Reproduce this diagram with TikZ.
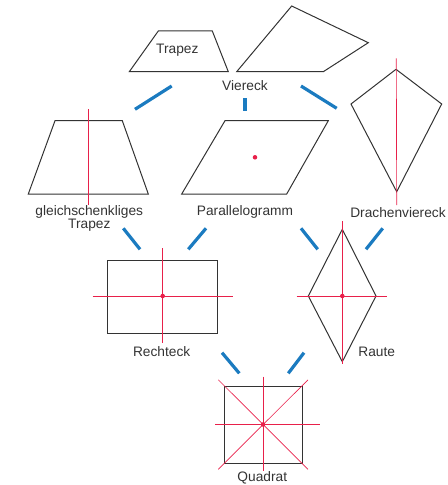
\documentclass[tikz,border=0pt]{standalone}
\usepackage{fontspec}
\setmainfont{Liberation Sans}
\usetikzlibrary{calc,positioning}
\definecolor{linkblue}{HTML}{1B7BC0}
\definecolor{axisred}{HTML}{E8204A}

\begin{document}
\begin{tikzpicture}[
  x=0.75pt,y=-0.75pt,
  line join=miter,
  every node/.style={font=\fontsize{10.3}{8.8}\selectfont,text=black!80,inner sep=0pt},
  outline/.style={draw=black!80,line width=.75pt},
  axis/.style={axisred,line width=.5pt},
  link/.style={linkblue,line width=2.4pt},
  centre/.style={circle,fill=axisred,inner sep=0pt,minimum size=3.4pt}
]
% Bounding box.
\useasboundingbox (0,0) rectangle (448,485);

% Top row: Trapez and Viereck.
\draw[outline] (158.3,31) -- (212.3,31) -- (228.3,71.7) -- (129.3,71.7) -- cycle;
\node (trapez) at (177.3,50.7) {Trapez};
\draw[outline] (236.7,71.7) -- (291.7,6) -- (368.3,42.7) -- (323.3,71.7) -- cycle;
\node (viereck) at (245,86) {Viereck};

\draw[link] (135,109.3) -- (171.7,86);
\draw[link] (245,98) -- (245,111);
\draw[link] (301,86) -- (336.7,108.3);

% Second row.
\coordinate (gT) at (88.3,157.3);
\draw[outline] (55,120.7) -- (122.3,120.7) -- (148.3,194) -- (28.3,194) -- cycle;
\draw[axis] (gT |- 0,109.3) -- (gT |- 0,205);
\node[align=center] (gtrapez) at (89.3,218.3) {gleichschenkliges\\Trapez};

\coordinate (pM) at (255,157.3);
\draw[outline] (225,120.7) -- (328.3,120.7) -- (286.7,194) -- (181.7,194) -- cycle;
\node[centre] at (pM) {};
\node (parallel) at (245,212.3) {Parallelogramm};

\draw[outline] (396,69.3) -- (441.7,104) -- (396.7,191.7) -- (351,104) -- cycle;
\draw[axis] (396.3,58.3) -- (396.7,205);
\node (drachen) at (398,212.3) {Drachenviereck};

\draw[link] (123.3,228.3) -- (140,249.3);
\draw[link] (206,228.3) -- (188.3,249.3);
\draw[link] (301,228.3) -- (317.7,249.3);
\draw[link] (382.7,228.3) -- (366,249.3);

% Third row: Rechteck and Raute.
\coordinate (rM) at (162.7,296);
\draw[outline] (107.7,260) rectangle (217.7,333.3);
\draw[axis] (92.7,296) -- (233.3,296);
\draw[axis] (162.7,248.3) -- (162.7,343.3);
\node[centre] at (rM) {};
\node (rechteck) at (161.7,351.7) {Rechteck};

\coordinate (raM) at (342.3,296);
\draw[outline] (342.3,229.3) -- (376,296) -- (342.3,361.7) -- (308.3,296) -- cycle;
\draw[axis] (342.3,221) -- (342.3,364);
\draw[axis] (296.7,296) -- (387.3,296);
\node[centre] at (raM) {};
\node (raute) at (376.7,351.7) {Raute};

\draw[link] (222,352.7) -- (239.3,373.3);
\draw[link] (304,352.7) -- (288.3,373.3);

% Bottom: Quadrat.
\coordinate (qM) at (263,424.5);
\draw[outline] (224,386) rectangle (302,463.3);
\draw[axis] (215,424.5) -- (320,424.5);
\draw[axis] (263,376.7) -- (263,471);
\draw[axis] (218.3,379.8) -- (308,469.3);
\draw[axis] (308,379.8) -- (218.3,469.3);
\node[centre] at (qM) {};
\node (quadrat) at (262.3,478.3) {Quadrat};
\end{tikzpicture}
\end{document}
